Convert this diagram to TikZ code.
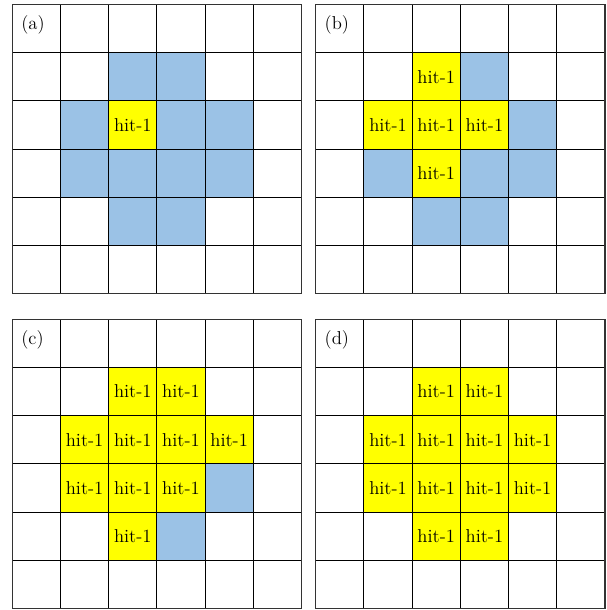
\documentclass[tikz,border=0pt]{standalone}
\definecolor{hityellow}{HTML}{FFFF00}
\definecolor{nearblue}{HTML}{9BC2E6}
\tikzset{
  gridline/.style={line width=0.6pt, black},
  outerline/.style={line width=0.85pt, black!80},
  hittext/.style={inner sep=0pt, font=\fontsize{11}{13}\selectfont},
  paneltag/.style={anchor=west, inner sep=0pt, font=\fontsize{11}{13}\selectfont}
}
\newcommand\ycell[3]{% panel, row, col
  \fill[hityellow] (#3-1,-#2) rectangle (#3,-#2+1);
  \node[hittext] (#1-#2-#3) at (#3-0.5,-#2+0.5) {hit-1};}
\newcommand\bcell[2]{\fill[nearblue] (#2-1,-#1) rectangle (#2,-#1+1);}
\newcommand\gridframe[2]{%
  \draw[gridline] (0,0) grid (6,-6);
  \draw[outerline] (0,0) rectangle (6,-6);
  \node[paneltag] (tag-#1) at (0.18,-0.42) {(#2)};}
\begin{document}
\begin{tikzpicture}[x=1cm,y=1cm]
\useasboundingbox (0,0) rectangle (12.593,12.656);
% (a)
\begin{scope}[shift={(0.255,12.563)}]
  \bcell{2}{3}\bcell{2}{4}
  \bcell{3}{2}\bcell{3}{4}\bcell{3}{5}
  \bcell{4}{2}\bcell{4}{3}\bcell{4}{4}\bcell{4}{5}
  \bcell{5}{3}\bcell{5}{4}
  \ycell{a}{3}{3}
  \gridframe{a}{a}
\end{scope}
% (b)
\begin{scope}[shift={(6.55,12.563)}]
  \bcell{2}{4}
  \bcell{3}{5}
  \bcell{4}{2}\bcell{4}{4}\bcell{4}{5}
  \bcell{5}{3}\bcell{5}{4}
  \ycell{b}{2}{3}
  \ycell{b}{3}{2}\ycell{b}{3}{3}\ycell{b}{3}{4}
  \ycell{b}{4}{3}
  \gridframe{b}{b}
\end{scope}
% (c)
\begin{scope}[shift={(0.255,6.031)}]
  \bcell{4}{5}
  \bcell{5}{4}
  \ycell{c}{2}{3}\ycell{c}{2}{4}
  \ycell{c}{3}{2}\ycell{c}{3}{3}\ycell{c}{3}{4}\ycell{c}{3}{5}
  \ycell{c}{4}{2}\ycell{c}{4}{3}\ycell{c}{4}{4}
  \ycell{c}{5}{3}
  \gridframe{c}{c}
\end{scope}
% (d)
\begin{scope}[shift={(6.55,6.031)}]
  \ycell{d}{2}{3}\ycell{d}{2}{4}
  \ycell{d}{3}{2}\ycell{d}{3}{3}\ycell{d}{3}{4}\ycell{d}{3}{5}
  \ycell{d}{4}{2}\ycell{d}{4}{3}\ycell{d}{4}{4}\ycell{d}{4}{5}
  \ycell{d}{5}{3}\ycell{d}{5}{4}
  \gridframe{d}{d}
\end{scope}
\end{tikzpicture}
\end{document}
